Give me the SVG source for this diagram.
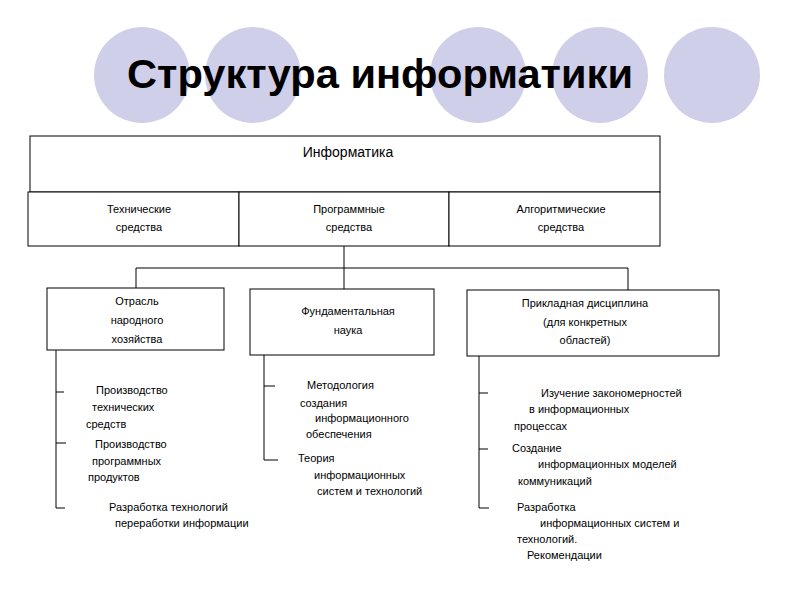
<svg xmlns="http://www.w3.org/2000/svg" width="800" height="600" viewBox="0 0 800 600">
<style>
.c{fill:#cfcfea}
.b{fill:#fff;stroke:#000;stroke-width:1}
.l{stroke:#000;stroke-width:1;fill:none}
text{font-family:"Liberation Sans",Arial,sans-serif;font-size:11px;fill:#000}
.m{text-anchor:middle}
</style>
<rect width="800" height="600" fill="#fff"/>
<g id="circles">
<circle class="c" cx="142" cy="75" r="48"/>
<circle class="c" cx="253" cy="75" r="48"/>
<circle class="c" cx="478" cy="75" r="48"/>
<circle class="c" cx="600" cy="75" r="48"/>
<circle class="c" cx="712" cy="75" r="48"/>
</g>
<text x="127" y="88" textLength="506" lengthAdjust="spacingAndGlyphs" style="font-size:41px;font-weight:bold">Структура  информатики</text>
<g id="informatika">
<rect class="b" x="30" y="136" width="630" height="56"/>
<text x="348" y="157" class="m" style="font-size:14px">Информатика</text>
</g>
<g id="tech"><rect class="b" x="28" y="192" width="211" height="54"/><text x="139" y="213" class="m">Технические</text><text x="139" y="231" class="m">средства</text></g>
<g id="prog"><rect class="b" x="239" y="192" width="210" height="54"/><text x="349" y="213" class="m">Программные</text><text x="349" y="231" class="m">средства</text></g>
<g id="algo"><rect class="b" x="449" y="192" width="211" height="54"/><text x="561" y="213" class="m">Алгоритмические</text><text x="561" y="231" class="m">средства</text></g>
<g id="connectors">
<path class="l" d="M344 246V289M136 268H628M136 268V288M628 268V290"/>
<path class="l" d="M56 350V508H65M56 392H64M56 443H66"/>
<path class="l" d="M264 355V460H278M264 386H275"/>
<path class="l" d="M479 356V508H489M479 393H488M479 449H488"/>
</g>
<g id="otrasl"><rect class="b" x="47" y="288" width="177" height="62"/><text x="137" y="305" class="m">Отрасль</text><text x="137" y="324" class="m">народного</text><text x="137" y="343" class="m">хозяйства</text></g>
<g id="fund"><rect class="b" x="250" y="289" width="184" height="66"/><text x="348" y="315" class="m">Фундаментальная</text><text x="348" y="334" class="m">наука</text></g>
<g id="prikl"><rect class="b" x="467" y="290" width="252" height="66"/><text x="585" y="307" class="m">Прикладная дисциплина</text><text x="585" y="326" class="m">(для конкретных</text><text x="585" y="344" class="m">областей)</text></g>
<g id="left-items">
<text x="96" y="394">Производство</text><text x="92" y="411">технических</text><text x="86" y="428">средств</text>
<text x="95" y="448">Производство</text><text x="92" y="465">программных</text><text x="88" y="481">продуктов</text>
<text x="109" y="511">Разработка  технологий</text><text x="115" y="527">переработки информации</text>
</g>
<g id="mid-items">
<text x="307" y="389">Методология</text><text x="300" y="407">создания</text><text x="315" y="422">информационного</text><text x="306" y="438">обеспечения</text>
<text x="298" y="462">Теория</text><text x="314" y="479">информационных</text><text x="317" y="495">систем и технологий</text>
</g>
<g id="right-items">
<text x="541" y="397">Изучение закономерностей</text><text x="529" y="413">в информационных</text><text x="514" y="430">процессах</text>
<text x="512" y="452">Создание</text><text x="538" y="468">информационных  моделей</text><text x="518" y="485">коммуникаций</text>
<text x="517" y="511">Разработка</text><text x="540" y="527">информационных  систем и</text><text x="517" y="543">технологий.</text><text x="527" y="559">Рекомендации</text>
</g>
</svg>
